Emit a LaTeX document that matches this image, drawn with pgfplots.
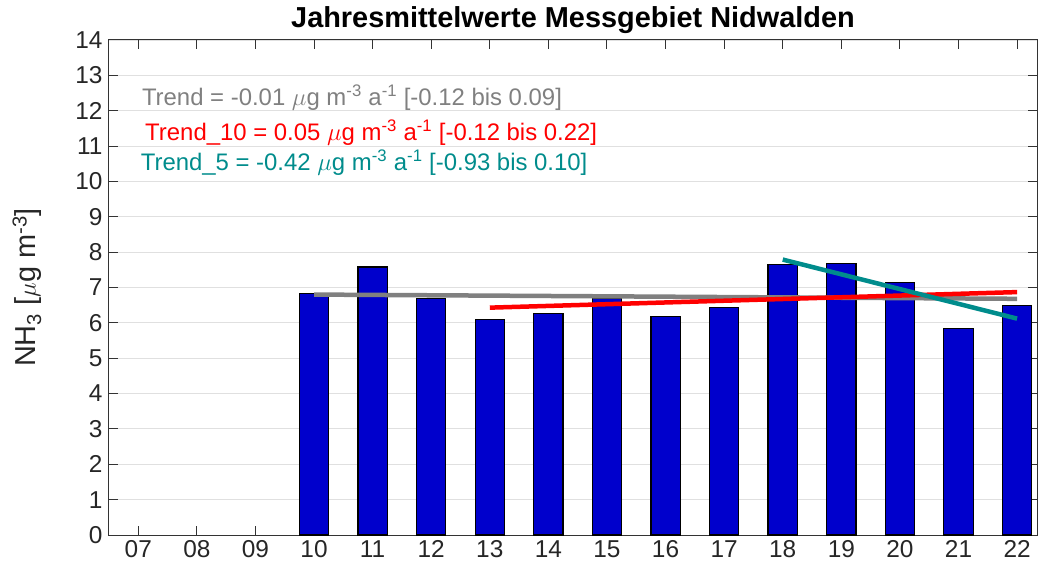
\documentclass[border=0pt]{standalone}
\usepackage{pgfplots}
\pgfplotsset{compat=1.18}
\usepackage{fontspec}
\setmainfont{Liberation Sans}
\definecolor{barblue}{RGB}{0,0,204}
\definecolor{trendgray}{RGB}{128,128,128}
\definecolor{trendteal}{RGB}{0,140,140}
\begin{document}
\begin{tikzpicture}
\begin{axis}[
  scale only axis,
  width=928bp, height=495bp,
  xmin=-0.5, xmax=15.34, ymin=0, ymax=14,
  xtick={0,...,15},
  xticklabels={07,08,09,10,11,12,13,14,15,16,17,18,19,20,21,22},
  ytick={0,1,...,14},
  /pgf/number format/assume math mode=true,
  ymajorgrids,
  grid style={black!12, line width=0.9bp},
  major tick length=9bp,
  tick style={black!80, line width=1bp},
  axis line style={black!80, line width=1bp},
  tick label style={font=\fontsize{24.5}{24.5}\selectfont, text=black!85},
  xticklabel style={yshift=-2bp},
  yticklabel style={xshift=-3bp},
  title={Jahresmittelwerte Messgebiet Nidwalden},
  title style={font=\fontsize{29}{32}\selectfont\bfseries, at={(axis description cs:0.5,1)}, anchor=base, yshift=6.7bp},
  ylabel={NH\textsubscript{3} [$\mu$g m\textsuperscript{-3}]},
  ylabel style={font=\fontsize{29}{32}\selectfont, text=black!85, at={(axis description cs:-0.0884,0.5)}, anchor=center},
  clip=false,
]
\addplot[ybar, bar width=0.5, fill=barblue, draw=black, line width=1.2bp, forget plot]
  coordinates {(3,6.83) (4,7.58) (5,6.69) (6,6.10) (7,6.27) (8,6.68) (9,6.18) (10,6.44) (11,7.64) (12,7.69) (13,7.14) (14,5.84) (15,6.48)};
\addplot[trendgray, line width=4.5bp] coordinates {(3,6.80) (15,6.68)};
\addplot[red, line width=4.5bp] coordinates {(6,6.43) (15,6.87)};
\addplot[trendteal, line width=4.5bp] coordinates {(11,7.79) (15,6.12)};
\node[anchor=base west, text=trendgray, font=\fontsize{24}{28}\selectfont, inner sep=0pt] at (axis cs:0.06,12.15) {Trend = -0.01 $\mu$g m\textsuperscript{-3} a\textsuperscript{-1} [-0.12 bis 0.09]};
\node[anchor=base west, text=red, font=\fontsize{24}{28}\selectfont, inner sep=0pt] at (axis cs:0.115,11.16) {Trend\_10 = 0.05 $\mu$g m\textsuperscript{-3} a\textsuperscript{-1} [-0.12 bis 0.22]};
\node[anchor=base west, text=trendteal, font=\fontsize{24}{28}\selectfont, inner sep=0pt] at (axis cs:0.04,10.31) {Trend\_5 = -0.42 $\mu$g m\textsuperscript{-3} a\textsuperscript{-1} [-0.93 bis 0.10]};
\end{axis}
\pgfresetboundingbox
\path[use as bounding box] ([xshift=-109bp,yshift=-40bp]current axis.south west) rectangle ([xshift=3bp,yshift=40bp]current axis.north east);
\end{tikzpicture}
\end{document}
